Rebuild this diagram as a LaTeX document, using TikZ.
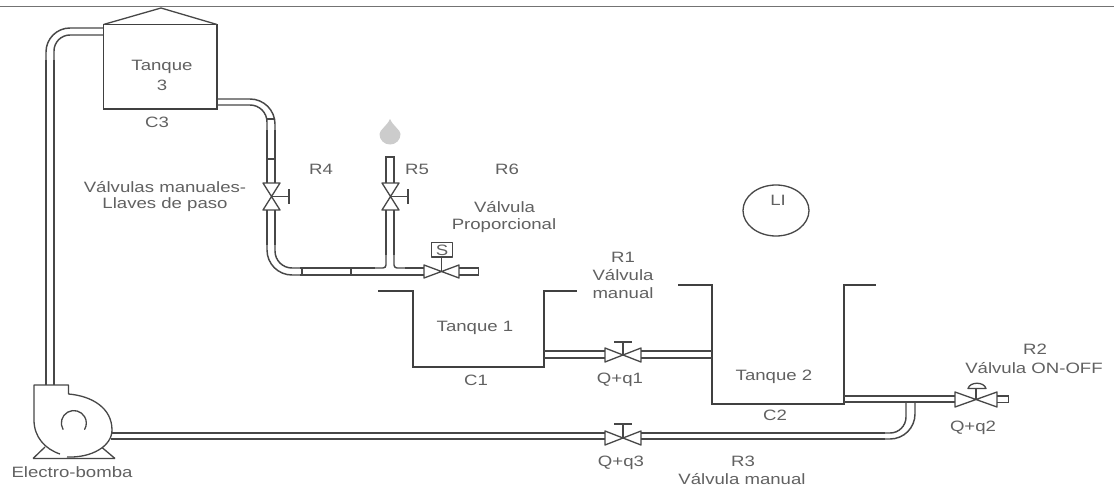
\documentclass[tikz,border=0pt]{standalone}
\usepackage{fontspec}
\usetikzlibrary{shapes.geometric}
\setmainfont{Liberation Sans}
\tikzset{
  x=1pt,y=-1pt,
  ln/.style={draw=black!72,line width=1.3pt,line join=round},
  tank/.style={draw=black!75,line width=1.7pt,line join=miter},
  pipe/.style={draw=black!72,line width=1.45pt},
  lab/.style={text=black!62,font=\fontsize{15}{18}\selectfont,xscale=1.24,align=center,inner sep=0pt},
}
% horizontal bow-tie valve: centre x, centre y, half width, half height
\newcommand{\bowH}[4]{\draw[ln] (#1-#3,#2-#4) -- (#1+#3,#2+#4) -- (#1+#3,#2-#4) -- (#1-#3,#2+#4) -- cycle;}
% vertical bow-tie valve
\newcommand{\bowV}[4]{\draw[ln] (#1-#3,#2-#4) -- (#1+#3,#2-#4) -- (#1-#3,#2+#4) -- (#1+#3,#2+#4) -- cycle;}
\begin{document}
\begin{tikzpicture}
\useasboundingbox (0,0) rectangle (1114,487);
\fill[white] (0,0) rectangle (1114,487);
\draw[black!55,line width=1pt] (0,7) -- (1114,7);
% tank 3
\draw[tank] (103.5,24.5) rectangle (217,109);
\draw[ln] (103.5,24.5) -- (161,8) -- (217,24.5);
\node[lab] (t3l) at (162,67) {Tanque};
\node[lab] (t3n) at (162,85) {3};
\node[lab] (c3) at (157,122) {C3};
% tank 3 to pump
\draw[pipe,rounded corners=24pt] (103.5,28) -- (46,28) -- (46,60);
\draw[pipe,rounded corners=16pt] (103.5,35) -- (54,35) -- (54,60);
\draw[pipe] (46,60) -- (46,385) (54,60) -- (54,385);
% tank 3 to first valve
\draw[pipe,rounded corners=25pt] (217,99) -- (275,99) -- (275,130);
\draw[pipe,rounded corners=17pt] (217,105) -- (267,105) -- (267,130);
\draw[pipe] (275,130) -- (275,183) (267,130) -- (267,183);
\draw[pipe] (267,119) -- (275,119) (267,159) -- (275,159);
% first valve to manifold
\draw[pipe] (267,210) -- (267,245) (275,210) -- (275,245);
\draw[pipe,rounded corners=25pt] (267,245) -- (267,275) -- (300,275);
\draw[pipe,rounded corners=17pt] (275,245) -- (275,268) -- (300,268);
\draw[pipe] (300,275) -- (424,275) (300,268) -- (375,268);
\draw[pipe,rounded corners=3pt] (375,268) -- (386,268) -- (386,255);
\draw[pipe] (386,255) -- (386,210) (394,255) -- (394,210);
\draw[pipe,rounded corners=3pt] (394,255) -- (394,268) -- (405,268);
\draw[pipe] (405,268) -- (424,268);
\draw[pipe] (302,268) -- (302,275) (351,268) -- (351,275);
% branch to drop
\draw[pipe] (386,183) -- (386,157) -- (394,157) -- (394,183);
\fill[black!20] (390,119) .. controls (387,126) and (379.5,130) .. (379.5,134)
   .. controls (379.5,140) and (384,144.5) .. (390,144.5)
   .. controls (396,144.5) and (400.5,140) .. (400.5,134)
   .. controls (400.5,130) and (393,126) .. (390,119) -- cycle;
% manual valves on vertical pipes
\bowV{271.5}{196.5}{8.5}{13.5}
\draw[ln] (271.5,196.5) -- (289,196.5) (289,189) -- (289,203.5);
\bowV{390.5}{196.5}{8.5}{13.5}
\draw[ln] (390.5,196.5) -- (408,196.5) (408,189) -- (408,203.5);
% proportional valve
\bowH{441.5}{271.5}{17.5}{6.5}
\draw[ln] (441.5,271.5) -- (441.5,257);
\draw[ln] (431.5,242.5) rectangle (452.5,257);
\node[lab] (s) at (442,250) {S};
\draw[pipe] (459,268) -- (478.5,268) -- (478.5,275) -- (459,275);
% tanks 1 and 2
\draw[tank] (378,291) -- (413,291) -- (413,367) -- (544,367) -- (544,291) -- (577,291);
\draw[tank] (678,285) -- (712,285) -- (712,404) -- (844,404) -- (844,285) -- (876,285);
% pipe q1
\draw[pipe] (544,351) -- (605,351) (544,358) -- (605,358) (641,351) -- (712,351) (641,358) -- (712,358);
\bowH{623}{355}{18}{7}
\draw[ln] (623,355) -- (623,342) (614,342) -- (632,342);
% pipe from tank 2 to ON-OFF valve
\draw[pipe] (844,396) -- (955,396) (844,402) -- (955,402);
\bowH{976}{399.5}{21}{7.5}
\draw[ln] (976,399.5) -- (976,388);
\draw[ln] (968,388.5) .. controls (970,381.5) and (984,381.5) .. (986,388.5) -- cycle;
\draw[pipe] (997,396) -- (1008.5,396) -- (1008.5,402.5) -- (997,402.5);
% return pipe
\draw[pipe,rounded corners=25pt] (915,402) -- (915,439) -- (885,439);
\draw[pipe,rounded corners=16pt] (906,402) -- (906,433) -- (885,433);
\draw[pipe] (885,439) -- (641,439) (885,433) -- (641,433);
\draw[pipe] (111,433) -- (605,433) (111,439) -- (605,439);
\bowH{623}{438}{18}{7}
\draw[ln] (623,438) -- (623,424) (614,424) -- (632,424);
% pump
\draw[ln] (60,454) .. controls (45,449) and (34,437) .. (34,420) -- (34,385) -- (68.5,385) -- (68.5,394)
   .. controls (92,396) and (112,408) .. (112,430)
   .. controls (112,446) and (92,458) .. (67,457);
\draw[ln] (33,458.5) -- (115,458.5) (33,458.5) -- (45,447) (115,458.5) -- (102,447.5);
\draw[ln,line cap=round] (63,429.3) arc[start angle=150,end angle=390,radius=12.5];
% level indicator
\node[ln,ellipse,minimum width=66pt,minimum height=51pt,inner sep=0pt] (li) at (776,210.5) {};
\node[lab] (lit) at (778,200) {LI};
% labels
\node[lab] (r4) at (321,169) {R4};
\node[lab] (r5) at (417,169) {R5};
\node[lab] (r6) at (507,169) {R6};
\node[lab] (vp1) at (504.5,207) {Válvula};
\node[lab] (vp2) at (504,226) {Proporcional};
\node[lab] (vm1) at (165,187) {Válvulas manuales-};
\node[lab] (vm2) at (165,205) {Llaves de paso};
\node[lab] (r1) at (623,257) {R1};
\node[lab] (r1a) at (623,275) {Válvula};
\node[lab] (r1b) at (623,293) {manual};
\node[lab] (t1) at (475,328) {Tanque 1};
\node[lab] (c1) at (476,380) {C1};
\node[lab] (q1) at (620,380) {Q+q1};
\node[lab] (t2) at (774,377) {Tanque 2};
\node[lab] (c2) at (775,415) {C2};
\node[lab] (q2) at (973,428) {Q+q2};
\node[lab] (r2) at (1035,349) {R2};
\node[lab] (r2a) at (1034,368) {Válvula ON-OFF};
\node[lab] (q3) at (621,463) {Q+q3};
\node[lab] (r3) at (743,461) {R3};
\node[lab] (r3a) at (742,479) {Válvula manual};
\node[lab] (eb) at (72,472) {Electro-bomba};
\end{tikzpicture}
\end{document}
